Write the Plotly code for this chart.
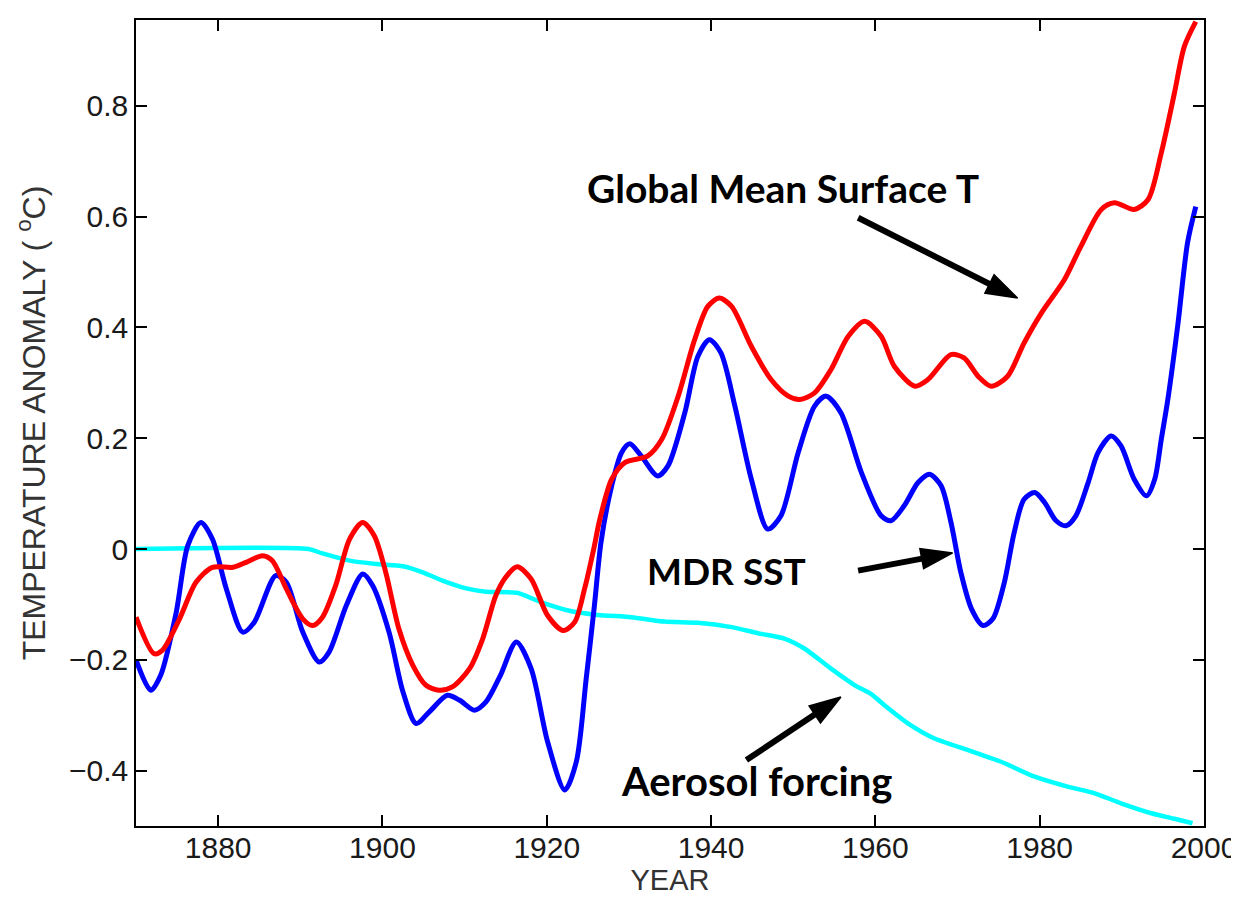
import plotly.graph_objects as go

# ---- data ----
mdr_years = [1870, 1871.8, 1873, 1874.9, 1876.3, 1877.9, 1879.3, 1881, 1883, 1884.4,
             1887, 1888.3, 1890.3, 1892.3, 1893.5, 1895.6, 1897.6, 1898.8, 1900.8, 1902.5,
             1904.1, 1905.7, 1907.9, 1909.4, 1911.2, 1912.6, 1914.3, 1916.3, 1918.1, 1920.1,
             1922.2, 1923.6, 1924.8, 1925.8, 1926.6, 1927.9, 1929.1, 1930.1, 1931.5, 1933.5,
             1934.75, 1936.8, 1938.4, 1939.8, 1941.2, 1942.9, 1944.9, 1946.9, 1948.5, 1950.6,
             1952.6, 1954.0, 1955.8, 1958.3, 1960.7, 1961.9, 1963.5, 1965.2, 1966.6, 1968.0,
             1969.2, 1970.4, 1971.7, 1973.1, 1974.3, 1975.7, 1976.9, 1978.1, 1979.4, 1980.6,
             1982.0, 1983.2, 1984.4, 1985.9, 1987.1, 1988.7, 1989.9, 1991.5, 1993.0, 1994.0,
             1994.8, 1995.6, 1996.8, 1998.0, 1999.0]
mdr_sst = [-0.20, -0.255, -0.228, -0.114, 0.006, 0.048, 0.018, -0.072, -0.150, -0.132,
           -0.048, -0.060, -0.150, -0.204, -0.186, -0.102, -0.045, -0.066, -0.150, -0.258,
           -0.315, -0.294, -0.264, -0.273, -0.291, -0.276, -0.230, -0.168, -0.216, -0.348,
           -0.435, -0.384, -0.234, -0.102, 0.012, 0.114, 0.174, 0.190, 0.168, 0.132,
           0.150, 0.246, 0.348, 0.378, 0.354, 0.258, 0.126, 0.036, 0.060, 0.174,
           0.258, 0.276, 0.246, 0.138, 0.060, 0.051, 0.078, 0.120, 0.135, 0.114,
           0.048, -0.042, -0.108, -0.138, -0.126, -0.060, 0.030, 0.090, 0.102, 0.084,
           0.051, 0.042, 0.060, 0.120, 0.174, 0.204, 0.186, 0.126, 0.096, 0.126,
           0.198, 0.270, 0.403, 0.553, 0.618]

gmst_years = [1870, 1872.2, 1873.2, 1875.3, 1877.3, 1879.3, 1881.8, 1883.4, 1885.4, 1886.6,
              1888.3, 1890.3, 1891.5, 1892.7, 1894.3, 1896, 1897.6, 1899, 1900.4, 1902,
              1903.7, 1905.3, 1906.9, 1908.5, 1910.6, 1912.2, 1913.8, 1915, 1916.4, 1918.1,
              1920.1, 1922, 1923.4, 1924.6, 1925.8, 1926.4, 1927.9, 1929.5, 1932.3, 1934,
              1936, 1938, 1939.6, 1941.0, 1942.5, 1944.9, 1947.3, 1949.4, 1950.8, 1952.6,
              1954.6, 1956.7, 1958.7, 1960.7, 1962.3, 1964.8, 1966.4, 1969.2, 1970.8, 1972.5,
              1974.1, 1976.1, 1978.1, 1980.2, 1983, 1985, 1987.5, 1989.1, 1991.5, 1993.2,
              1994.8, 1996.4, 1997.6, 1999.0]
gmst = [-0.123, -0.189, -0.183, -0.126, -0.060, -0.033, -0.033, -0.024, -0.012, -0.021,
        -0.072, -0.126, -0.138, -0.123, -0.066, 0.018, 0.048, 0.024, -0.042, -0.144,
        -0.210, -0.246, -0.255, -0.249, -0.216, -0.162, -0.084, -0.051, -0.032, -0.054,
        -0.120, -0.147, -0.132, -0.072, 0.006, 0.050, 0.126, 0.156, 0.168, 0.198,
        0.276, 0.378, 0.438, 0.453, 0.438, 0.366, 0.306, 0.276, 0.270, 0.282,
        0.324, 0.384, 0.411, 0.384, 0.330, 0.294, 0.306, 0.351, 0.345, 0.312,
        0.294, 0.312, 0.372, 0.426, 0.486, 0.546, 0.613, 0.625, 0.613, 0.631,
        0.715, 0.823, 0.907, 0.952]

aer_years = [1870, 1891, 1892.7, 1896, 1899.2, 1902.5, 1904.9, 1907.3, 1910.2, 1912.6,
             1916.4, 1919.3, 1922.6, 1926.2, 1930.3, 1934.3, 1938.4, 1942.5, 1945.7, 1949,
             1951.4, 1954.6, 1957.5, 1959.5, 1961.1, 1964, 1967.2, 1971.3, 1975.3, 1979.4,
             1983.4, 1986.7, 1989.9, 1993.6, 1996.4, 1998.6]
aerosol = [0.0, 0.0, -0.008, -0.021, -0.027, -0.031, -0.042, -0.057, -0.071, -0.077,
           -0.079, -0.096, -0.111, -0.119, -0.123, -0.131, -0.133, -0.141, -0.152, -0.162,
           -0.180, -0.216, -0.246, -0.262, -0.282, -0.315, -0.342, -0.363, -0.384, -0.411,
           -0.429, -0.441, -0.459, -0.477, -0.487, -0.495]

x_ticks = [1880, 1900, 1920, 1940, 1960, 1980, 2000]
y_ticks = [-0.4, -0.2, 0, 0.2, 0.4, 0.6, 0.8]
y_ticktext = ["\u22120.4", "\u22120.2", "0", "0.2", "0.4", "0.6", "0.8"]

labels = ["Global Mean Surface T", "MDR SST", "Aerosol forcing"]
label_x = [1948.8, 1941.9, 1928.8]
label_y = [0.651, -0.039, -0.419]
label_anchor = ["center", "center", "left"]
label_size = [39, 37, 40]

arrow_tail_x = [1957.9, 1957.9, 1944.3]
arrow_tail_y = [0.598, -0.039, -0.381]
arrow_head_x = [1977.3, 1969.4, 1955.8]
arrow_head_y = [0.453, -0.007, -0.267]

fig = go.Figure()
fig.add_trace(go.Scatter(x=aer_years, y=aerosol, mode="lines", name="Aerosol forcing",
                         line=dict(color="#00ffff", width=4.5, shape="spline", smoothing=0.6)))
fig.add_trace(go.Scatter(x=mdr_years, y=mdr_sst, mode="lines", name="MDR SST",
                         line=dict(color="#0000ff", width=5, shape="spline", smoothing=0.8)))
fig.add_trace(go.Scatter(x=gmst_years, y=gmst, mode="lines", name="Global Mean Surface T",
                         line=dict(color="#ff0000", width=5, shape="spline", smoothing=0.8)))

# arrows: a line from the label side to the curve, with an arrow marker at the head
for tx, ty, hx, hy in zip(arrow_tail_x, arrow_tail_y, arrow_head_x, arrow_head_y):
    fig.add_trace(go.Scatter(x=[tx, hx], y=[ty, hy], mode="lines+markers",
                             line=dict(color="black", width=6),
                             marker=dict(symbol="arrow", size=[0, 33], angleref="previous",
                                         color="black", opacity=1,
                                         line=dict(width=1.5, color="black")),
                             hoverinfo="skip", showlegend=False))

ann = []
for t, x, y, a, s in zip(labels, label_x, label_y, label_anchor, label_size):
    ann.append(dict(x=x, y=y, xref="x", yref="y", text=t, showarrow=False,
                    xanchor=a, yanchor="middle",
                    font=dict(family="Lato", size=s, color="black", weight="bold")))

axis_common = dict(showline=True, linecolor="black", linewidth=1.5, mirror="ticks",
                   ticks="inside", ticklen=11, tickwidth=1.5, tickcolor="black",
                   showgrid=False, zeroline=False,
                   tickfont=dict(family="Liberation Sans, Arial", size=30, color="#1a1a1a"))

fig.update_layout(
    width=1239, height=900,
    margin=dict(l=128, r=42, t=10, b=82),
    paper_bgcolor="white", plot_bgcolor="white",
    showlegend=False,
    annotations=ann,
    xaxis=dict(range=[1870, 2000], tickvals=x_ticks, ticklabelstandoff=-6,
               title=dict(text="YEAR", font=dict(family="Liberation Sans, Arial", size=29, color="#333333"),
                          standoff=0),
               **axis_common),
    yaxis=dict(range=[-0.5, 0.955], tickvals=y_ticks, ticktext=y_ticktext,
               title=dict(text="TEMPERATURE ANOMALY ( <sup>o</sup>C)",
                          font=dict(family="Liberation Sans, Arial", size=32, color="#333333"),
                          standoff=14),
               **axis_common),
)

fig.write_html("out.html")
